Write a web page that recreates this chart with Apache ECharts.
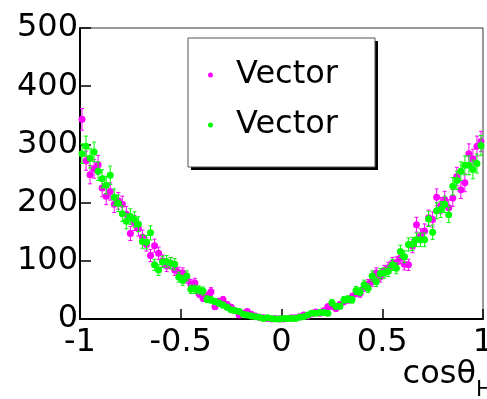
<!DOCTYPE html>
<html>
<head>
<meta charset="utf-8">
<script src="https://cdn.jsdelivr.net/npm/echarts@6/dist/echarts.min.js"></script>
<style>
html,body{margin:0;padding:0;background:#fff;}
#c{width:487px;height:399px;}
</style>
</head>
<body>
<div id="c"></div>
<script>
// histogram: 100 bins over cos(theta_H) in [-1, 1]
const binLow = -1, binHigh = 1, nBins = 100;
const xTicks = [-1, -0.5, 0, 0.5, 1];
const yTicks = [0, 100, 200, 300, 400, 500];
const seriesNames = ['Vector', 'Vector'];
const colors = ['#ff00ff', '#00ff00'];

const magentaValues = [
  343,272,248,258,265,225,211,219,197,203,
  197,180,147,165,155,141,128,109,126,113,
  100,91,96,84,80,79,70,60,62,44,
  36,40,47,21,30,33,25,20,14,7,
  10,13,8,5,3,2,1,0,1,0,
  0,1,2,2,4,7,5,9,12,10,
  14,21,22,18,25,30,33,38,45,44,
  55,60,64,79,72,83,88,96,97,105,
  94,93,125,162,143,151,174,171,209,195,
  205,191,208,245,222,234,284,275,297,305
];
const greenValues = [
  284,297,276,287,254,241,230,247,209,199,
  181,168,176,171,163,133,132,148,93,84,
  98,99,96,94,72,66,74,51,51,50,
  48,34,33,30,27,24,20,16,14,13,
  8,7,5,4,3,1,2,1,0,0,
  1,1,1,1,3,4,7,10,10,11,
  11,10,28,22,22,33,34,33,49,47,
  59,53,74,64,78,79,82,93,87,116,
  107,128,129,136,136,136,172,149,186,188,
  197,179,228,238,254,264,264,257,267,298
];

const binCenters = [];
for (let i = 0; i < nBins; i++) {
  binCenters.push(+(binLow + (i + 0.5) * (binHigh - binLow) / nBins).toFixed(4));
}
function points(vals) { return vals.map((v, i) => [binCenters[i], v]); }
function errData(vals) { return vals.map((v, i) => [binCenters[i], v - Math.sqrt(v), v + Math.sqrt(v)]); }

function errRender(color) {
  return function (params, api) {
    const x = api.value(0);
    const lo = api.coord([x, api.value(1)]);
    const hi = api.coord([x, api.value(2)]);
    const cap = 2;
    const st = { stroke: color, lineWidth: 1 };
    return {
      type: 'group',
      children: [
        { type: 'line', shape: { x1: lo[0], y1: lo[1], x2: hi[0], y2: hi[1] }, style: st },
        { type: 'line', shape: { x1: lo[0] - cap, y1: lo[1], x2: lo[0] + cap, y2: lo[1] }, style: st },
        { type: 'line', shape: { x1: hi[0] - cap, y1: hi[1], x2: hi[0] + cap, y2: hi[1] }, style: st }
      ]
    };
  };
}

const FONT = 'DejaVu Sans';
const chart = echarts.init(document.getElementById('c'), null, { renderer: 'canvas' });
chart.setOption({
  animation: false,
  backgroundColor: '#fff',
  grid: { left: 80, right: 4, top: 28, bottom: 80, show: true, borderColor: '#333', borderWidth: 1,
    outerBoundsMode: 'none', containLabel: false },
  xAxis: {
    type: 'value', min: xTicks[0], max: xTicks[xTicks.length - 1], interval: 0.5,
    axisLine: { show: true, onZero: false, lineStyle: { color: '#000', width: 2 } },
    axisTick: { show: true, inside: true, length: 10, lineStyle: { color: '#000', width: 1.5 } },
    axisLabel: { color: '#000', fontSize: 32, fontFamily: FONT, margin: 8,
      alignMinLabel: 'center', alignMaxLabel: 'center', hideOverlap: false,
      formatter: v => String(v) },
    splitLine: { show: false }
  },
  yAxis: {
    type: 'value', min: yTicks[0], max: yTicks[yTicks.length - 1], interval: 100,
    axisLine: { show: true, onZero: false, lineStyle: { color: '#000', width: 2 } },
    axisTick: { show: true, inside: true, length: 11, lineStyle: { color: '#000', width: 1.5 } },
    axisLabel: { color: '#000', fontSize: 32, fontFamily: FONT, margin: 2 },
    splitLine: { show: false }
  },
  legend: {
    orient: 'vertical', left: 208, top: 59, padding: 0, itemGap: 18,
    itemWidth: 5, itemHeight: 5, icon: 'circle',
    data: ['s1', 's2'],
    formatter: n => n === 's1' ? seriesNames[0] : seriesNames[1],
    textStyle: { color: '#000', fontSize: 32, fontFamily: FONT, padding: [0, 0, 0, 18] }
  },
  graphic: [
    { type: 'rect', shape: { x: 191, y: 41, width: 187, height: 129 }, style: { fill: '#000' }, z: 0 },
    { type: 'rect', shape: { x: 188, y: 38, width: 187, height: 129 }, style: { fill: '#fff', stroke: '#555', lineWidth: 1 }, z: 1 },
    { type: 'text', x: 476, y: 391, z: 10,
      style: { text: 'cosθ', font: '32px "DejaVu Sans"', fill: '#000', textAlign: 'right', textVerticalAlign: 'bottom' } },
    { type: 'text', x: 476, y: 401, z: 10,
      style: { text: 'H', font: '21px "DejaVu Sans"', fill: '#000', textAlign: 'left', textVerticalAlign: 'bottom' } }
  ],
  series: [
    { name: 'e1', type: 'custom', renderItem: errRender(colors[0]), data: errData(magentaValues), encode: { x: 0, y: [1, 2] }, z: 2 },
    { name: 's1', type: 'scatter', data: points(magentaValues), symbol: 'circle', symbolSize: 7,
      itemStyle: { color: colors[0], opacity: 1 }, z: 3 },
    { name: 'e2', type: 'custom', renderItem: errRender(colors[1]), data: errData(greenValues), encode: { x: 0, y: [1, 2] }, z: 4 },
    { name: 's2', type: 'scatter', data: points(greenValues), symbol: 'circle', symbolSize: 7,
      itemStyle: { color: colors[1], opacity: 1 }, z: 5 }
  ]
});
</script>
</body>
</html>
